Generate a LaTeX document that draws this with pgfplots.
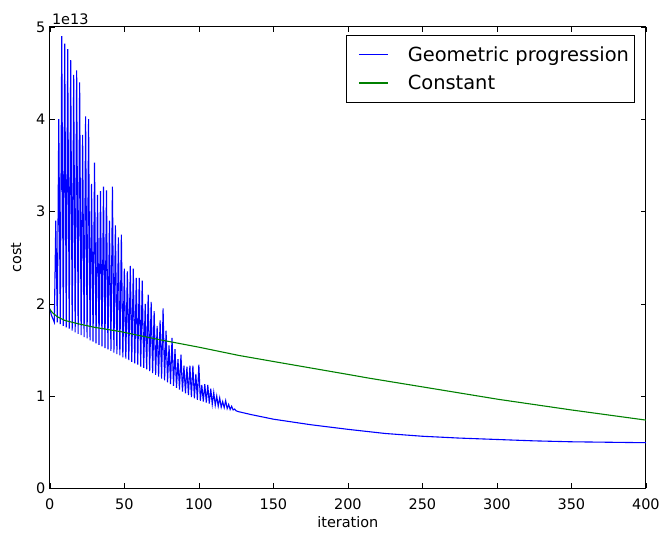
\documentclass[border=0pt]{standalone}
\usepackage{fontspec}
\setmainfont{DejaVu Sans}
\usepackage{pgfplots}
\pgfplotsset{compat=1.18}
\definecolor{mplblue}{rgb}{0,0,1}
\definecolor{mplgreen}{rgb}{0,0.5,0}
\begin{document}
\begin{tikzpicture}
\begin{axis}[
  name=ax,
  scale only axis,
  width=598pt, height=463pt,
  xmin=0, xmax=400, ymin=0, ymax=5,
  xtick={0,50,...,400}, ytick={0,1,2,3,4,5},
  scaled y ticks=false,
  tick align=inside,
  major tick length=5pt,
  tick style={black, line width=0.6pt},
  axis line style={black, line width=0.9pt},
  /pgf/number format/assume math mode=true,
  ticklabel style={font=\fontsize{14.5}{17}\selectfont},
  xticklabel style={yshift=-7pt},
  yticklabel style={xshift=-1pt},
  label style={font=\fontsize{14.5}{17}\selectfont},
  xlabel={iteration}, ylabel={cost},
  ylabel shift=8pt,
  legend style={font=\fontsize{19.5}{22}\selectfont, at={(axis description cs:1,1)}, anchor=north east, xshift=-11pt, yshift=-8pt, line width=0.9pt, inner xsep=3.5pt, inner ysep=9.5pt, row sep=8pt},
  legend cell align=left,
  legend image code/.code={\path[draw=none] (-9pt,0pt) -- (47pt,0pt); \draw[#1, line width=1.1pt] (0pt,0pt) -- (29pt,0pt);},
  clip mode=individual,
]
\addplot[draw=mplblue, line width=1.1pt] coordinates {
(0,1.95)(1,1.88)(2,1.84)(3,1.80)(4,2.90)(5,1.80)(6,4.00)(7,1.78)(8,4.90)(9,1.76)
(10,4.82)(11,1.745)(12,4.76)(13,1.73)(14,4.64)(15,1.71)(16,4.48)(17,1.69)(18,4.53)(19,1.675)
(20,4.40)(21,1.66)(22,3.83)(23,1.64)(24,4.03)(25,1.625)(26,4.00)(27,1.605)(28,3.30)(29,1.59)
(30,3.53)(31,1.57)(32,3.18)(33,1.555)(34,3.22)(35,1.54)(36,3.27)(37,1.52)(38,3.23)(39,1.505)
(40,2.90)(41,1.49)(42,3.27)(43,1.47)(44,2.85)(45,1.455)(46,2.72)(47,1.44)(48,2.75)(49,1.42)
(50,2.38)(51,1.405)(52,2.35)(53,1.39)(54,2.41)(55,1.37)(56,2.38)(57,1.355)(58,2.28)(59,1.34)
(60,2.28)(61,1.32)(62,2.25)(63,1.305)(64,2.00)(65,1.29)(66,2.10)(67,1.27)(68,2.02)(69,1.25)
(70,1.92)(71,1.23)(72,1.76)(73,1.21)(74,1.82)(75,1.19)(76,1.95)(77,1.17)(78,1.71)(79,1.15)
(80,1.55)(81,1.13)(82,1.63)(83,1.11)(84,1.51)(85,1.09)(86,1.40)(87,1.07)(88,1.45)(89,1.05)
(90,1.33)(91,1.03)(92,1.32)(93,1.01)(94,1.33)(95,0.99)(96,1.33)(97,0.975)(98,1.24)(99,0.96)
(100,1.34)(101,0.95)(102,1.12)(103,0.94)(104,1.13)(105,0.93)(106,1.12)(107,0.92)(108,1.08)(109,0.91)
(110,1.04)(111,0.90)(112,1.00)(113,0.89)(114,0.98)(115,0.88)(116,0.94)(117,0.875)(118,0.95)(119,0.865)
(120,0.91)(121,0.855)(122,0.89)(123,0.85)(124,0.86)(125,0.84)(126,0.835)(127,0.83)
(135,0.80)(150,0.75)(175,0.69)(200,0.64)(225,0.595)(250,0.565)(275,0.545)(300,0.53)(325,0.515)(350,0.505)(375,0.50)(400,0.495)
};
\addlegendentry{Geometric progression}
\addplot[draw=mplgreen, line width=1.1pt] coordinates {
(0,1.94)(2,1.90)(5,1.86)(10,1.82)(20,1.78)(30,1.745)(47,1.70)(74,1.61)(100,1.53)(127,1.44)(150,1.375)(175,1.305)(200,1.235)(214,1.195)(250,1.10)(301,0.965)(350,0.85)(400,0.74)
};
\addlegendentry{Constant}
\node[anchor=base west, inner sep=0pt, font=\fontsize{14.5}{17}\selectfont] at (rel axis cs:0,1) [yshift=2.5pt, xshift=2pt] {1e13};
\end{axis}
\path (ax.south west) ++(-50pt,-46pt) rectangle ([shift={(15pt,27pt)}]ax.north east);
\end{tikzpicture}
\end{document}
